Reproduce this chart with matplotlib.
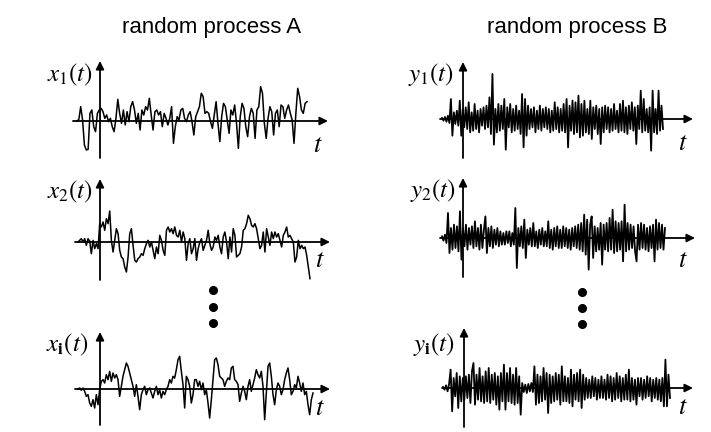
import numpy as np
import matplotlib.pyplot as plt

plt.rcParams['mathtext.fontset'] = 'stix'

W, H = 711, 432

# traced sample values (amplitude above the time axis, arbitrary units)
x1 = [0, 5, 43, 3, -72, -87, -85, 23, 33, -17, -32, 23, 33, 38, 28, 8, 18, -2, 8, -17,
      -32, 8, 65, 23, -7, 33, -12, 28, -2, 43, 58, 33, -7, 23, -27, 33, 18, 43, 33, 68,
      18, -27, 28, 33, 18, 28, -17, 23, 8, -12, 8, 43, -67, -17, 13, 3, 33, 38, 8, -2,
      18, 28, -2, -42, 13, 28, 43, 83, 73, 23, 28, 23, -2, -22, 18, 58, -7, -62, 13, 53,
      43, 3, -37, 33, 18, 48, -7, -82, 13, 53, 38, -17, -47, 13, 38, 23, -52, 33, 43, 103,
      83, -7, -52, 8, 43, 28, -42, 23, 33, -17, 48, 43, 8, 33, 48, 23, 3, -67, 23, 98,
      73, 33, 23, 53, 58]
x2 = [0, 5, 10, 0, 10, -10, 10, 3, -35, 5, -20, -5, -20, 55, 45, 60, 35, 70, 55, 93,
      5, -30, 5, 40, 25, -25, -45, -50, -75, -90, -45, 25, 40, -10, -55, -60, -50, -45, -35, -40,
      -20, -5, 5, -15, 0, -25, -50, -15, -35, 20, 5, -25, -40, 35, 45, 30, 40, 25, 45, 20,
      15, 35, 0, 30, 10, -55, -5, 10, -35, -20, 10, -55, -20, 0, 10, -25, -10, 5, 35, -5,
      -25, -15, 15, 5, 20, -15, -35, 15, 30, 0, -50, 15, -30, 40, 20, -45, -40, -35, -15, 35,
      40, 55, 80, 70, 50, 45, 55, 40, 10, -20, -10, 30, -30, 40, 15, -10, 30, 10, 30, 15,
      25, 5, -15, 20, 30, 45, 15, 20, 10, 0, -60, -45, 5, -20, -10, -20, -15, -40, -75, -110]
xi = [0, 3, -4, 3, -7, -22, -17, -42, -52, -32, -57, -17, -47, -2, 23, 28, 18, 43, 28, 53,
      23, 48, 33, 43, 28, -22, 8, 38, 58, 78, 68, 48, 28, 8, -22, 13, -22, -62, -17, -2,
      8, -17, -2, 3, -12, -27, -7, 8, -17, -2, -27, -7, -17, -2, 8, 28, 18, 38, 33, 58,
      88, 98, 53, 13, -57, 38, 28, 8, -42, -17, 28, 28, 8, 23, -2, 18, -17, -2, -42, -87,
      -32, 28, 88, 93, 73, 38, 33, 28, 8, 23, 33, 28, 63, 68, 28, 23, 13, -37, -12, 8,
      -7, -32, 8, 28, -7, 13, 33, 58, 43, 33, 53, 8, -92, -12, 68, 78, 38, -17, -47, -2,
      18, 8, -17, -2, 28, 48, 63, 28, -17, -7, 13, 3, 38, 18, -7, 18, -17, -7, -47, -77,
      -32, -12]

y1 = [3, -5, 6, -8, 10, -12, 60, -50, 20, -15, 25, -20, 55, -50, 30, -25, 35, -30, 50, -40,
      20, -35, 45, -30, 25, -40, 30, -20, 35, -30, 40, -25, 65, -45, 135, -77, 30, -40, 45, -35,
      40, -30, 60, -92, 35, -25, 45, -40, 30, -35, 40, -30, 25, -45, 75, -85, 60, -50, 40, -30,
      30, -25, 35, -40, 25, -30, 40, -35, 30, -25, 35, -30, 30, -40, 25, -35, 50, -30, 35, -40,
      30, -35, 45, -40, 60, -85, 40, -35, 55, -45, 50, -40, 70, -55, 45, -50, 55, -40, 30, -45,
      55, -60, 35, -30, 40, -45, 30, -75, 35, -40, 40, -30, 35, -40, 30, -35, 45, -30, 25, -40,
      45, -35, 55, -40, 35, -45, 40, -30, 50, -35, 35, -75, 40, -30, 85, -40, 60, -35, 30, -40,
      35, -95, 85, -40, 30, -45, 85, -35, 40, -30]
y2 = [5, -8, 10, -15, 75, -45, 30, -35, 40, -30, 35, -40, 80, -65, 30, -25, 40, -35, 30, -20,
      35, -30, 50, -25, 30, -35, 40, -30, 25, 65, -45, 30, -25, 35, -30, 25, -20, 30, -25, 20,
      -20, 15, -20, 20, -15, 20, -25, 15, -20, 90, -90, 30, -25, 35, -30, 55, -60, 25, -20, 30,
      -25, 45, -25, 20, -30, 25, -20, 30, -25, 20, -25, 50, -30, 25, -35, 30, -25, 35, -30, 25,
      -30, 35, -25, 30, -30, 25, -35, 30, -25, 35, -30, 40, -35, 45, -40, 70, -50, 55, -95, 40,
      65, -60, 35, -40, 30, -35, 45, -80, 40, -35, 45, -40, 60, -35, 85, -45, 50, -40, 45, -35,
      50, -70, 100, -40, 45, -35, 40, -30, 35, -40, -70, 40, -35, 45, -30, 40, -35, 30, -40, 35,
      -30, 40, -70, 55, -35, 45, -30, 40, -35, 30]
yi = [3, -5, 8, -10, 12, 55, -70, 30, -25, 45, -60, 35, -40, 30, -35, 35, -30, 40, -45, 50,
      75, -50, 40, -35, 60, -40, 35, -45, 50, -40, 60, -45, 40, -35, 45, -50, 35, -65, 45, -40,
      70, -65, 45, -40, 60, -45, 40, -50, 60, -45, 35, -80, 15, -12, 10, -15, 12, -10, 15, -12,
      65, -50, 40, -45, 35, -40, 60, -35, 45, -75, 40, -45, 35, -40, 45, -35, 40, -50, 65, -40,
      35, -40, 30, -45, 55, -55, 40, -35, 45, -40, 55, -60, 40, -35, 30, -30, 25, -30, 35, -25,
      30, -35, 25, -30, 35, -30, 25, -35, 40, -30, 35, -40, 30, -35, 45, -30, 35, -40, 30, -35,
      40, -35, 55, -40, 30, -35, 25, -50, 30, -25, 30, -35, 25, -30, 35, -25, 30, -40, 25, -30,
      30, -35, 25, -40, 30, -55, 85, -55, 40, -30]

labels_a = [r'$x_1(t)$', r'$x_2(t)$', r'$x_\mathbf{i}(t)$']
labels_b = [r'$y_1(t)$', r'$y_2(t)$', r'$y_\mathbf{i}(t)$']
titles = ['random process A', 'random process B']

fig = plt.figure(figsize=(W / 100, H / 100), dpi=100)

arrow = dict(arrowstyle='-|>', color='black', lw=1.3, mutation_scale=12,
             shrinkA=0, shrinkB=0)


def panel(sig, label, lw, vx, by, hx0, hx1, vt, vb, s0, s1, lx, ly, tx, ty):
    ax = fig.add_axes([hx0 / W, 1 - vb / H, (hx1 - hx0) / W, (vb - vt) / H])
    ax.set_xlim(hx0 - vx, hx1 - vx)
    ax.set_ylim(-(vb - by) * 3, (by - vt) * 3)
    ax.axis('off')
    t = np.linspace(s0 - vx, s1 - vx, len(sig))
    ax.plot(t, sig, color='black', lw=lw, clip_on=False)
    ax.annotate('', xy=(hx1 - vx, 0), xytext=(hx0 - vx, 0), arrowprops=arrow)
    ax.annotate('', xy=(0, (by - vt) * 3), xytext=(0, -(vb - by) * 3), arrowprops=arrow)
    fig.text(lx / W, 1 - ly / H, label, ha='right', va='center', fontsize=18)
    fig.text(tx / W, 1 - ty / H, '$t$', ha='center', va='center', fontsize=19)


# process A
panel(x1, labels_a[0], 1.1, 100, 121, 73, 328, 61, 158, 77, 307, 93, 75, 318, 145)
panel(x2, labels_a[1], 1.1, 100, 242, 75, 330, 179, 280, 78, 310, 93, 192, 320, 260)
panel(xi, labels_a[2], 1.1, 100, 389, 75, 330, 332, 425, 78, 313, 88, 345, 320, 408)
# process B
panel(y1, labels_b[0], 1.3, 463, 119, 440, 693, 62, 158, 442, 663, 454, 75, 683, 143)
panel(y2, labels_b[1], 1.3, 463, 238, 440, 695, 178, 277, 442, 665, 456, 190, 683, 260)
panel(yi, labels_b[2], 1.3, 464, 388, 442, 693, 328, 427, 443, 670, 455, 345, 683, 407)

# vertical ellipsis dots between rows
over = fig.add_axes([0, 0, 1, 1])
over.set_xlim(0, W)
over.set_ylim(H, 0)
over.axis('off')
over.plot([213, 213, 213], [290, 307, 323], 'o', color='black', ms=5.5)
over.plot([582, 582, 582], [292, 308, 324], 'o', color='black', ms=5.5)

fig.text(212 / W, 1 - 28 / H, titles[0], ha='center', va='center',
         fontsize=16, family='Liberation Sans')
fig.text(577 / W, 1 - 28 / H, titles[1], ha='center', va='center',
         fontsize=16, family='Liberation Sans')

fig.savefig('out.png', dpi=100)
